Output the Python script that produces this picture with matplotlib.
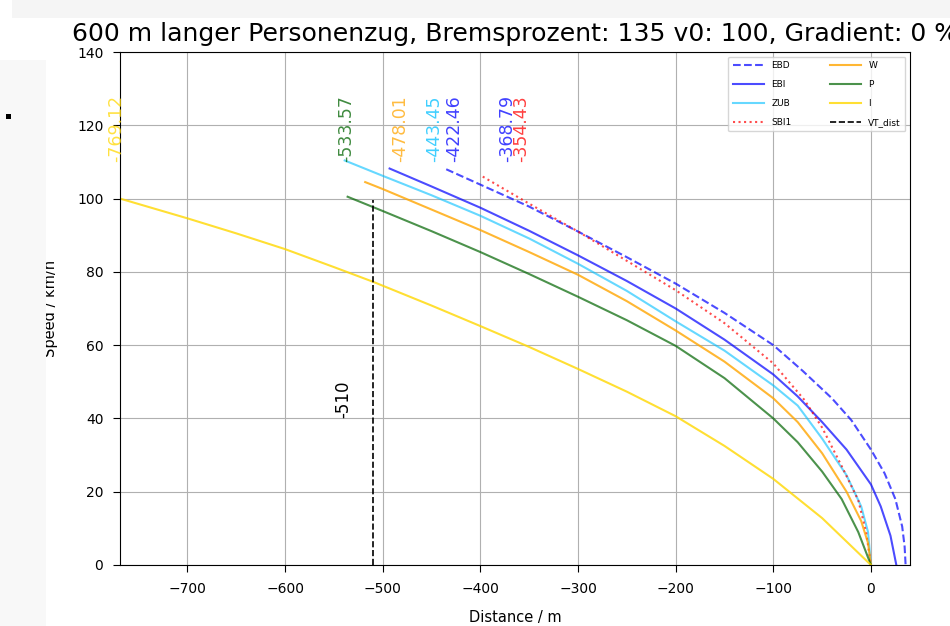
import numpy as np
import matplotlib.pyplot as plt
from matplotlib.patches import Rectangle

# curves (distance in m, speed in km/h)
ebd_d = [-435, -400, -350, -300, -250, -200, -150, -100, -70, -40, -20, 0, 14, 25, 32, 34.5, 35.5]
ebd_v = [108, 103.8, 97.8, 91, 84, 76.8, 68.8, 60, 53, 45.5, 39.5, 31.5, 25, 18, 10.5, 5, 0]

ebi_d = [-493, -450, -400, -350, -300, -250, -200, -150, -100, -75, -50, -25, 0, 10, 20, 26]
ebi_v = [108.2, 103.3, 97.5, 91.2, 84.5, 77.5, 70, 61.5, 52, 46, 39, 31.5, 22, 16, 8, 0]

zub_d = [-539, -500, -450, -400, -350, -300, -250, -200, -150, -100, -75, -50, -25, -10, -3, 0]
zub_v = [110.4, 106.2, 100.9, 95.3, 89.1, 82.2, 74.8, 66.5, 58.5, 49, 43.5, 34.5, 24.5, 16, 9, 0]

sbi_d = [-397.6, -350, -300, -250, -200, -150, -100, -68, -50, -30, -13, -5, 0]
sbi_v = [106, 98.6, 91, 83, 75, 66, 55, 45, 37.5, 27, 17.7, 9, 0]

w_d = [-518, -500, -450, -400, -350, -300, -250, -200, -150, -100, -75, -50, -25, -10, -3, 0]
w_v = [104.5, 102.6, 97, 91.4, 85.4, 79.2, 72, 64, 55.5, 45.5, 39, 30.5, 20, 12, 6, 0]

p_d = [-536, -500, -450, -400, -350, -300, -250, -200, -150, -100, -75, -50, -30, -13, 0]
p_v = [100.5, 96.6, 91.1, 85.4, 79.4, 73.2, 66.8, 59.8, 51, 40, 33.5, 25.5, 18, 9, 0]

i_d = [-769.12, -700, -650, -600, -550, -510, -450, -400, -350, -300, -250, -200, -150, -100, -50, 0]
i_v = [100, 94.6, 90.5, 86.2, 81.3, 77.3, 70.8, 65.2, 59.5, 53.5, 47.3, 40.6, 32.5, 23.5, 12.8, 0]

vt_dist = -510
vt_top = 99.6

start_labels = [-769.12, -533.57, -478.01, -443.45, -422.46, -368.79, -354.43]
label_colors = ['gold', 'darkgreen', 'orange', 'deepskyblue', 'blue', 'blue', 'red']

fig = plt.figure(figsize=(9.5, 6.26), dpi=100)
ax = fig.add_axes([120/950, 61/626, 790/950, 513/626])

ax.plot(ebd_d, ebd_v, '--', color='blue', alpha=0.7, lw=1.5, label='EBD')
ax.plot(ebi_d, ebi_v, '-', color='blue', alpha=0.7, lw=1.5, label='EBI')
ax.plot(zub_d, zub_v, '-', color='deepskyblue', alpha=0.6, lw=1.5, label='ZUB')
ax.plot(sbi_d, sbi_v, ':', color='red', alpha=0.7, lw=1.5, label='SBI1')
ax.plot(w_d, w_v, '-', color='orange', alpha=0.8, lw=1.5, label='W')
ax.plot(p_d, p_v, '-', color='darkgreen', alpha=0.7, lw=1.5, label='P')
ax.plot(i_d, i_v, '-', color='gold', alpha=0.8, lw=1.5, label='I')
ax.plot([vt_dist, vt_dist], [0, vt_top], '--', color='black', lw=1.2, label='VT_dist')

for x, c in zip(start_labels, label_colors):
    ax.text(x - 4, 110, str(x), rotation=90, ha='center', va='bottom',
            color=c, alpha=0.75, fontsize=12.5)
ax.text(vt_dist - 30, 40, str(vt_dist), rotation=90, ha='center', va='bottom',
        color='black', fontsize=12)

ax.set_xlim(-769.12, 40)
ax.set_ylim(0, 140)
ax.set_xticks(np.arange(-700, 1, 100))
ax.set_yticks(np.arange(0, 141, 20))
ax.tick_params(labelsize=10, length=5, pad=7)
ax.grid(True, color='#b0b0b0', lw=0.8)
ax.set_xlabel('Distance / m', fontsize=10.5)
ax.set_ylabel('Speed / km/h', fontsize=10.5)
ax.xaxis.set_label_coords(0.5, -0.088)
ax.yaxis.set_label_coords(-0.078, 0.5)
ax.set_title('600 m langer Personenzug, Bremsprozent: 135 v0: 100, Gradient: 0 %',
             fontsize=18.1, pad=8)
ax.legend(loc='upper right', ncol=2, fontsize=6.5, handlelength=3.5,
          labelspacing=1.1, columnspacing=4.2, borderpad=0.5)

# screenshot framing
fig.patches.append(Rectangle((0, 0), 46/950, 566/626, transform=fig.transFigure,
                             facecolor='#f8f8f8', edgecolor='none', zorder=10))
fig.patches.append(Rectangle((12/950, 608/626), 938/950, 18/626, transform=fig.transFigure,
                             facecolor='#f5f5f5', edgecolor='none', zorder=10))
fig.patches.append(Rectangle((6/950, 507/626), 5/950, 5/626, transform=fig.transFigure,
                             facecolor='black', edgecolor='none', zorder=11))

fig.savefig('out.png', dpi=100)
